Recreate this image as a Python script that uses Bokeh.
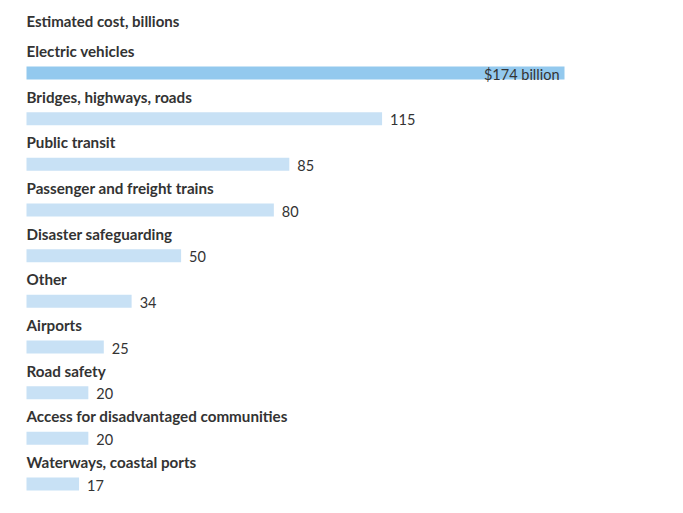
from bokeh.plotting import figure
from bokeh.models import Range1d, ColumnDataSource
from bokeh.core.properties import value
from bokeh.embed import file_html
from bokeh.resources import INLINE

categories = ["Electric vehicles", "Bridges, highways, roads", "Public transit",
              "Passenger and freight trains", "Disaster safeguarding", "Other",
              "Airports", "Road safety", "Access for disadvantaged communities",
              "Waterways, coastal ports"]
costs = [174, 115, 85, 80, 50, 34, 25, 20, 20, 17]
value_labels = ["$174 billion", "115", "85", "80", "50", "34", "25", "20", "20", "17"]
title_text = "Estimated cost, billions"

W, H = 675, 505
ppu = 538 / 174.0
xs = -26 / ppu
row = 45.67
ytop = -72.5 / row

p = figure(width=W, height=H, output_backend="svg", toolbar_location=None,
           x_range=Range1d(xs, xs + W / ppu),
           y_range=Range1d(ytop + H / row, ytop),
           min_border=0, outline_line_color=None)
p.axis.visible = False
p.grid.visible = False
p.background_fill_color = "white"

idx = list(range(len(categories)))
colors = ["#93c9ee"] + ["#c8e1f5"] * (len(categories) - 1)
src = ColumnDataSource(dict(y=idx, v=costs, c=colors, cat=categories,
                            ly=[i - 0.48 for i in idx]))
p.hbar(y="y", left=0, right="v", height=13 / row, fill_color="c", line_color=None, source=src)

font = value("Lato")
p.text(x=0, y="ly", text="cat", source=src, text_font=font, text_font_style="bold",
       text_font_size="15.2px", text_color="#333333", text_baseline="middle", text_align="left")

out = ColumnDataSource(dict(x=costs[1:], y=idx[1:], t=value_labels[1:]))
p.text(x="x", y="y", text="t", source=out, text_font=font, text_font_size="14.5px",
       text_color="#333333", text_baseline="middle", text_align="left", x_offset=8, y_offset=1)
ins = ColumnDataSource(dict(x=costs[:1], y=idx[:1], t=value_labels[:1]))
p.text(x="x", y="y", text="t", source=ins, text_font=font, text_font_size="14.5px",
       text_color="#333333", text_baseline="middle", text_align="right", x_offset=-5, y_offset=1)

p.text(x=[0], y=[ytop + 20 / row], text=[title_text], text_font=font,
       text_font_style="bold", text_font_size="15px", text_color="#333333",
       text_baseline="middle", text_align="left")

open("out.html", "w").write(file_html(p, INLINE))
